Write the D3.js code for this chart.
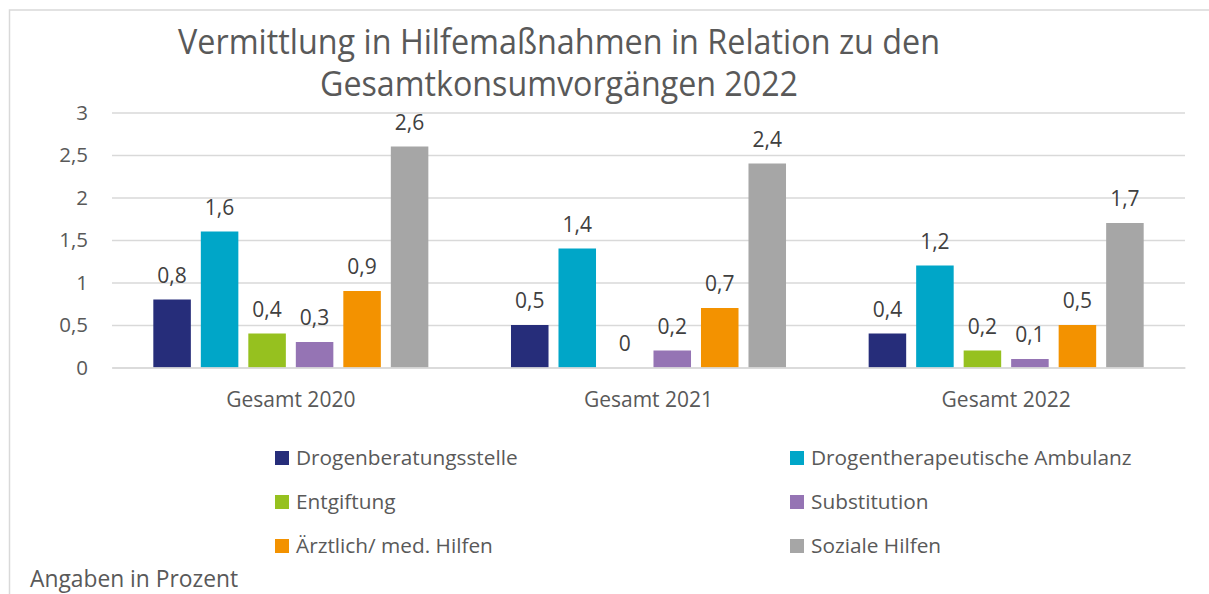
<!DOCTYPE html>
<html><head><meta charset="utf-8">
<script src="https://cdn.jsdelivr.net/npm/d3@7"></script>
<style>
html,body{margin:0;padding:0;background:#fff;}
svg{display:block;font-family:"Open Sans","Noto Sans",sans-serif;}
</style></head>
<body>
<svg id="chart" width="1209" height="594"></svg>
<script>
const categories = ["Gesamt 2020", "Gesamt 2021", "Gesamt 2022"];
const seriesNames = ["Drogenberatungsstelle", "Drogentherapeutische Ambulanz", "Entgiftung", "Substitution", "Ärztlich/ med. Hilfen", "Soziale Hilfen"];
const drogenberatungsstelle = [0.8, 0.5, 0.4];
const drogentherapeutischeAmbulanz = [1.6, 1.4, 1.2];
const entgiftung = [0.4, 0, 0.2];
const substitution = [0.3, 0.2, 0.1];
const aerztlichMedHilfen = [0.9, 0.7, 0.5];
const sozialeHilfen = [2.6, 2.4, 1.7];
const yTicks = [0, 0.5, 1, 1.5, 2, 2.5, 3];
const colors = ["#262D7A", "#00A6C8", "#96C11F", "#9574B4", "#F39200", "#A6A6A6"];

const seriesValues = [drogenberatungsstelle, drogentherapeutischeAmbulanz, entgiftung, substitution, aerztlichMedHilfen, sozialeHilfen];

const loc = d3.formatLocale({decimal: ",", thousands: ".", grouping: [3], currency: ["", "€"]});
const fmt = v => loc.format("~g")(v);

const svg = d3.select("#chart");
const textColor = "#595959";

// frame
svg.append("rect").attr("x", 9.5).attr("y", 10).attr("width", 1230).attr("height", 620)
  .attr("fill", "none").attr("stroke", "#d9d9d9").attr("stroke-width", 1.5);

const plot = {left: 112, right: 1185, top: 112.5, bottom: 367.5};

const y = d3.scaleLinear().domain([0, 3]).range([plot.bottom, plot.top]);
const x0 = d3.scaleBand().domain(categories).range([plot.left, plot.right]).paddingInner(0).paddingOuter(0);
const x1 = d3.scaleBand().domain(seriesNames).range([0, x0.bandwidth()]).paddingInner(0.21).paddingOuter(0.87);

// gridlines via axis
const yAxis = d3.axisLeft(y).tickValues(yTicks).tickSize(-(plot.right - plot.left)).tickFormat(fmt).tickPadding(24);
const gy = svg.append("g").attr("transform", `translate(${plot.left},0)`).call(yAxis);
gy.select(".domain").remove();
gy.selectAll(".tick line").attr("stroke", "#d9d9d9").attr("stroke-width", 1.5);
gy.selectAll(".tick text").attr("fill", textColor).attr("font-size", 20.5).attr("font-family", "Open Sans");

// bars
const groups = svg.append("g").selectAll("g").data(categories).join("g")
  .attr("transform", d => `translate(${x0(d)},0)`);

groups.each(function(cat, ci) {
  const g = d3.select(this);
  const data = seriesNames.map((s, si) => ({s, si, v: seriesValues[si][ci]}));
  g.selectAll("rect").data(data).join("rect")
    .attr("x", d => x1(d.s)).attr("width", x1.bandwidth())
    .attr("y", d => y(d.v)).attr("height", d => y(0) - y(d.v))
    .attr("fill", d => colors[d.si]);
  g.selectAll("text").data(data).join("text")
    .attr("x", d => x1(d.s) + x1.bandwidth() / 2)
    .attr("y", d => y(d.v) - 17)
    .attr("text-anchor", "middle")
    .attr("fill", "#404040").attr("font-size", 21)
    .text(d => fmt(d.v));
});

// x axis
const xAxis = d3.axisBottom(x0).tickSize(0).tickPadding(25);
const gx = svg.append("g").attr("transform", `translate(0,${plot.bottom})`).call(xAxis);
gx.select(".domain").attr("stroke", "#d9d9d9").attr("stroke-width", 1.5);
gx.selectAll(".tick text").attr("fill", textColor).attr("font-size", 21).attr("font-family", "Open Sans");

// title
const title = svg.append("text").attr("text-anchor", "middle").attr("fill", textColor)
  .attr("font-size", 35);
title.append("tspan").attr("x", 559).attr("y", 54).attr("textLength", 762).attr("lengthAdjust", "spacingAndGlyphs")
  .text("Vermittlung in Hilfemaßnahmen in Relation zu den");
title.append("tspan").attr("x", 559).attr("y", 96).attr("textLength", 478).attr("lengthAdjust", "spacingAndGlyphs")
  .text("Gesamtkonsumvorgängen 2022");

// legend
const legendPos = [[275, 458], [790, 458], [275, 502], [790, 502], [275, 546], [790, 546]];
const lg = svg.append("g").selectAll("g").data(seriesNames).join("g")
  .attr("transform", (d, i) => `translate(${legendPos[i][0]},${legendPos[i][1]})`);
lg.append("rect").attr("x", 0).attr("y", -7).attr("width", 14).attr("height", 14).attr("fill", (d, i) => colors[i]);
lg.append("text").attr("x", 21).attr("y", 0).attr("dy", "0.35em").attr("fill", textColor)
  .attr("font-size", 20.8).text(d => d);

// note
svg.append("text").attr("x", 30).attr("y", 587).attr("fill", textColor).attr("font-size", 22.8)
  .text("Angaben in Prozent");
</script>
</body></html>
